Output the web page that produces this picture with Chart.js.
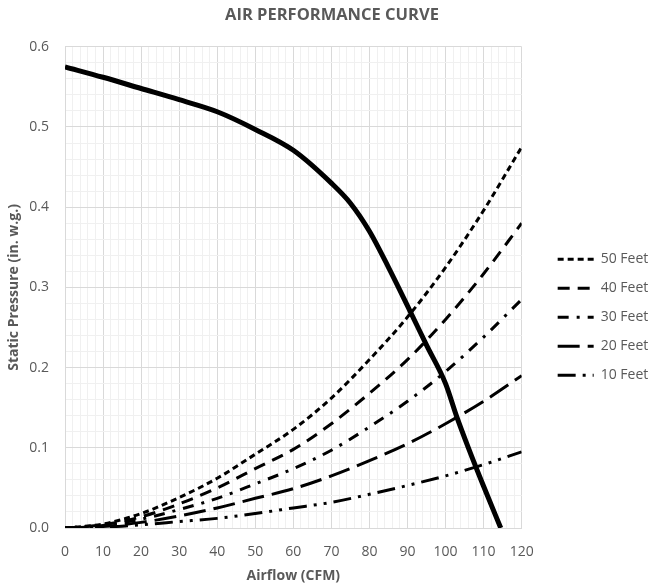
<!DOCTYPE html>
<html><head><meta charset="utf-8">
<script src="https://cdn.jsdelivr.net/npm/chart.js@4.4.1/dist/chart.umd.min.js"></script>
<style>html,body{margin:0;padding:0;background:#fff}</style>
</head><body>
<canvas id="c" width="652" height="586"></canvas>
<script>
// ---- data ----
const airflow = [0, 10, 20, 30, 40, 50, 60, 70, 80, 90, 100, 110, 120];
const feet50 = [0, 0.005, 0.018, 0.038, 0.062, 0.092, 0.123, 0.162, 0.210, 0.263, 0.325, 0.396, 0.475];
const feet40 = [0, 0.004, 0.014, 0.030, 0.050, 0.074, 0.098, 0.130, 0.168, 0.210, 0.260, 0.317, 0.380];
const feet30 = [0, 0.003, 0.011, 0.023, 0.037, 0.055, 0.074, 0.097, 0.126, 0.158, 0.195, 0.238, 0.285];
const feet20 = [0, 0.002, 0.007, 0.015, 0.025, 0.037, 0.049, 0.065, 0.084, 0.105, 0.130, 0.158, 0.190];
const feet10 = [0, 0.001, 0.004, 0.008, 0.012, 0.018, 0.025, 0.032, 0.042, 0.053, 0.065, 0.079, 0.095];
const fanAirflow = [0, 10, 20, 30, 40, 50, 60, 70, 75, 80, 85, 90, 95, 100, 103, 106, 110, 114.5];
const fanPressure = [0.575, 0.562, 0.548, 0.534, 0.519, 0.497, 0.471, 0.430, 0.405, 0.370, 0.325, 0.277, 0.228, 0.180, 0.138, 0.100, 0.052, 0];
const seriesNames = ['50 Feet', '40 Feet', '30 Feet', '20 Feet', '10 Feet'];
const xMajorTicks = [0, 10, 20, 30, 40, 50, 60, 70, 80, 90, 100, 110, 120];
const yMajorTicks = ['0.0', '0.1', '0.2', '0.3', '0.4', '0.5', '0.6'];

const FONT = "'Open Sans', 'Noto Sans', sans-serif";
const TXT = '#595959';
const MAJOR = '#d9d9d9', MINOR = '#f0f0f0';

const pts = (xs, ys) => xs.map((x, i) => ({x: x, y: ys[i]}));
const sysSeries = [feet50, feet40, feet30, feet20, feet10];
const dashes = [[6, 4], [12, 8], [11, 8, 3, 8], [22, 8], [18, 7, 3, 7, 3, 7]];

const datasets = sysSeries.map((vals, i) => ({
  label: seriesNames[i],
  data: pts(airflow, vals),
  borderColor: '#000', backgroundColor: '#000',
  borderWidth: 3, borderDash: dashes[i], borderCapStyle: 'butt',
  pointRadius: 0, showLine: true, cubicInterpolationMode: 'monotone', order: 2
}));
datasets.push({
  label: 'Fan',
  data: pts(fanAirflow, fanPressure),
  borderColor: '#000', backgroundColor: '#000',
  borderWidth: 5, pointRadius: 0, showLine: true,
  cubicInterpolationMode: 'monotone', order: 1
});

const isMajorX = v => xMajorTicks.indexOf(Math.round(v * 1000) / 1000) >= 0;
const yLabel = v => {
  const t = (Math.round(v * 10) / 10).toFixed(1);
  return (Math.abs(v * 10 - Math.round(v * 10)) < 1e-6 && yMajorTicks.indexOf(t) >= 0) ? t : '';
};

new Chart(document.getElementById('c'), {
  type: 'scatter',
  data: {datasets: datasets},
  options: {
    responsive: false, animation: false,
    layout: {padding: {left: 16, right: 4, top: 0, bottom: 0}},
    plugins: {
      title: {display: true, text: 'AIR PERFORMANCE CURVE', color: TXT,
        font: {family: FONT, size: 16.5, weight: 'bold'}, padding: {top: 5, bottom: 22}},
      legend: {position: 'right',
        title: {display: true, text: ' ', font: {family: FONT, size: 12}, padding: {top: 34, bottom: 0}},
        labels: {usePointStyle: true, pointStyle: 'line', pointStyleWidth: 36,
          color: TXT, font: {family: FONT, size: 14}, padding: 15,
          generateLabels: chart => chart.data.datasets
            .map((ds, i) => ({text: ds.label, fillStyle: '#000', strokeStyle: '#000',
              lineWidth: ds.borderWidth, lineDash: ds.borderDash, lineCap: 'butt',
              pointStyle: 'line', hidden: false, datasetIndex: i, fontColor: TXT}))
            .filter(it => it.text !== 'Fan')}},
      tooltip: {enabled: false}
    },
    scales: {
      x: {type: 'linear', min: 0, max: 120,
        afterFit: s => { s.height = 58; },
        ticks: {stepSize: 2, autoSkip: false, maxRotation: 0, color: TXT,
          font: {family: FONT, size: 14}, padding: 16,
          callback: v => isMajorX(v) ? String(Math.round(v)) : ''},
        grid: {drawTicks: false, color: c => (c.tick && isMajorX(c.tick.value)) ? MAJOR : MINOR},
        border: {color: MAJOR},
        title: {display: true, text: 'Airflow (CFM)', color: TXT,
          font: {family: FONT, size: 14, weight: 'bold'}, padding: {top: 0, bottom: 2}}
      },
      y: {type: 'linear', min: 0, max: 0.6,
        afterFit: s => { s.width = 49; },
        ticks: {stepSize: 0.02, autoSkip: false, color: TXT,
          font: {family: FONT, size: 14}, padding: 16, callback: v => yLabel(v)},
        grid: {drawTicks: false, color: c => (c.tick && yLabel(c.tick.value) !== '') ? MAJOR : MINOR},
        border: {color: MAJOR},
        title: {display: true, text: 'Static Pressure (in. w.g.)', color: TXT,
          font: {family: FONT, size: 14, weight: 'bold'}, padding: {top: -10, bottom: 0}}
      },
      gap: {type: 'linear', position: 'right', display: true,
        grid: {display: false}, ticks: {display: false}, border: {display: false},
        afterFit: s => { s.width = 21; }}
    }
  }
});
</script>
</body></html>
